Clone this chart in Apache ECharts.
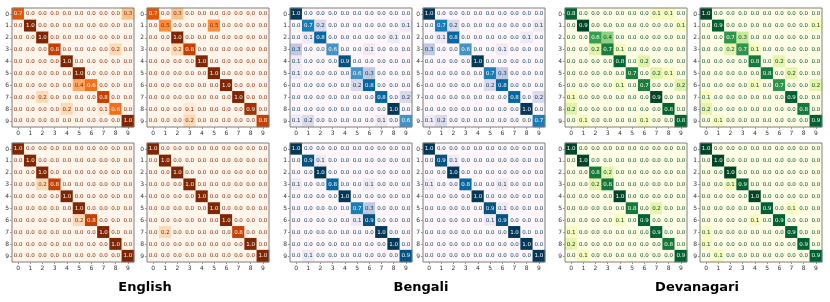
<!DOCTYPE html>
<html>
<head>
<meta charset="utf-8">
<script src="https://cdn.jsdelivr.net/npm/echarts@6/dist/echarts.min.js"></script>
<style>html,body{margin:0;padding:0;background:#fff}#c{width:830px;height:302px}</style>
</head>
<body>
<div id="c"></div>
<script>
const classLabels = ['0','1','2','3','4','5','6','7','8','9'];
const groupTitles = ['English','Bengali','Devanagari'];

const english1 = [
 [0.7,0,0,0,0,0,0,0,0,0.3],
 [0,1.0,0,0,0,0,0,0,0,0],
 [0,0,1.0,0,0,0,0,0,0,0],
 [0,0,0,0.8,0,0,0,0,0.2,0],
 [0,0,0,0,1.0,0,0,0,0,0],
 [0,0,0,0,0,1.0,0,0,0,0],
 [0,0,0,0,0,0.4,0.6,0,0,0],
 [0,0,0.2,0,0,0,0,0.8,0,0],
 [0,0,0,0,0.2,0,0,0.1,0.6,0],
 [0,0,0,0,0,0,0,0,0,1.0]];
const english2 = [
 [0.7,0,0.3,0,0,0,0,0,0,0],
 [0,0.5,0,0,0,0.5,0,0,0,0],
 [0,0,1.0,0,0,0,0,0,0,0],
 [0,0,0.2,0.8,0,0,0,0,0,0],
 [0,0,0,0,1.0,0,0,0,0,0],
 [0,0,0,0,0,1.0,0,0,0,0],
 [0,0,0,0,0,0,1.0,0,0,0],
 [0,0,0,0,0,0,0,1.0,0,0],
 [0,0,0,0.1,0,0,0,0,0.9,0],
 [0,0,0,0.2,0,0,0,0,0,0.8]];
const english3 = [
 [1.0,0,0,0,0,0,0,0,0,0],
 [0,1.0,0,0,0,0,0,0,0,0],
 [0,0,1.0,0,0,0,0,0,0,0],
 [0,0,0.2,0.8,0,0,0,0,0,0],
 [0,0,0,0,1.0,0,0,0,0,0],
 [0,0,0,0,0,1.0,0,0,0,0],
 [0,0,0,0,0,0.2,0.8,0,0,0],
 [0,0,0,0,0,0,0,1.0,0,0],
 [0,0,0,0,0,0,0,0,1.0,0],
 [0,0,0,0,0,0,0,0,0,1.0]];
const english4 = [
 [1.0,0,0,0,0,0,0,0,0,0],
 [0,1.0,0,0,0,0,0,0,0,0],
 [0,0,1.0,0,0,0,0,0,0,0],
 [0,0,0,1.0,0,0,0,0,0,0],
 [0,0,0,0,1.0,0,0,0,0,0],
 [0,0,0,0,0,1.0,0,0,0,0],
 [0,0,0,0,0,0,1.0,0,0,0],
 [0,0.2,0,0,0,0,0,0.8,0,0],
 [0,0,0,0,0,0,0,0,1.0,0],
 [0,0,0,0,0,0,0,0,0,1.0]];
const bengali1 = [
 [1.0,0,0,0,0,0,0,0,0,0],
 [0,0.7,0.2,0,0,0,0,0,0,0.1],
 [0,0.1,0.8,0,0,0,0,0,0.1,0],
 [0.3,0,0,0.6,0,0,0.1,0,0,0],
 [0.1,0,0,0,0.9,0,0,0,0,0],
 [0.1,0,0,0,0,0.6,0.3,0,0,0],
 [0,0,0,0,0,0.2,0.8,0,0,0],
 [0,0,0,0,0,0,0,0.8,0,0.2],
 [0,0,0,0,0,0,0,0,1.0,0],
 [0.1,0.2,0,0,0,0,0,0.1,0,0.6]];
const bengali2 = [
 [1.0,0,0,0,0,0,0,0,0,0],
 [0,0.7,0.2,0,0,0,0,0,0,0.1],
 [0,0.1,0.8,0,0,0,0,0,0.1,0],
 [0.3,0,0,0.6,0,0,0.1,0,0,0],
 [0,0,0,0,1.0,0,0,0,0,0],
 [0,0,0,0,0,0.7,0.3,0,0,0],
 [0,0,0,0,0,0.2,0.8,0,0,0],
 [0,0,0,0,0,0,0,0.8,0,0.2],
 [0,0,0,0,0,0,0,0,1.0,0],
 [0.1,0.2,0,0,0,0,0,0,0,0.7]];
const bengali3 = [
 [1.0,0,0,0,0,0,0,0,0,0],
 [0,0.9,0.1,0,0,0,0,0,0,0],
 [0,0,1.0,0,0,0,0,0,0,0],
 [0.1,0,0,0.8,0,0,0.1,0,0,0],
 [0,0,0,0,1.0,0,0,0,0,0],
 [0,0,0,0,0,0.7,0.3,0,0,0],
 [0,0,0,0,0,0.1,0.9,0,0,0],
 [0,0,0,0,0,0,0,1.0,0,0],
 [0,0,0,0,0,0,0,0,1.0,0],
 [0,0.1,0,0,0,0,0,0,0,0.9]];
const bengali4 = [
 [1.0,0,0,0,0,0,0,0,0,0],
 [0,0.9,0.1,0,0,0,0,0,0,0],
 [0,0,1.0,0,0,0,0,0,0,0],
 [0.1,0,0,0.8,0,0,0.1,0,0,0],
 [0,0,0,0,1.0,0,0,0,0,0],
 [0,0,0,0,0,0.9,0.1,0,0,0],
 [0,0,0,0,0,0.1,0.9,0,0,0],
 [0,0,0,0,0,0,0,1.0,0,0],
 [0,0,0,0,0,0,0,0,1.0,0],
 [0,0,0,0,0,0,0,0,0,1.0]];
const devanagari1 = [
 [0.8,0,0,0,0,0,0,0.1,0.1,0],
 [0,0.9,0,0,0,0,0,0,0,0.1],
 [0,0,0.6,0.4,0,0,0,0,0,0],
 [0,0,0.2,0.7,0.1,0,0,0,0,0],
 [0,0,0,0,0.8,0,0.2,0,0,0],
 [0,0,0,0,0,0.7,0,0.2,0.1,0],
 [0,0,0,0,0.1,0,0.7,0,0,0.2],
 [0.1,0,0,0,0,0,0,0.9,0,0],
 [0.2,0,0,0,0,0,0,0,0.8,0],
 [0,0.1,0,0,0,0,0.1,0,0,0.8]];
const devanagari2 = [
 [1.0,0,0,0,0,0,0,0,0,0],
 [0,0.9,0,0,0,0,0,0,0,0.1],
 [0,0,0.7,0.3,0,0,0,0,0,0],
 [0,0,0.2,0.7,0.1,0,0,0,0,0],
 [0,0,0,0,0.8,0,0.2,0,0,0],
 [0,0,0,0,0,0.8,0,0.2,0,0],
 [0,0,0,0,0.1,0,0.7,0,0,0.2],
 [0.1,0,0,0,0,0,0,0.9,0,0],
 [0.2,0,0,0,0,0,0,0,0.8,0],
 [0,0.1,0,0,0,0,0,0,0,0.9]];
const devanagari3 = [
 [1.0,0,0,0,0,0,0,0,0,0],
 [0,1.0,0,0,0,0,0,0,0,0],
 [0,0,0.8,0.2,0,0,0,0,0,0],
 [0,0,0.2,0.8,0,0,0,0,0,0],
 [0,0,0,0,1.0,0,0,0,0,0],
 [0,0,0,0,0,0.8,0,0.2,0,0],
 [0,0,0,0,0.1,0,0.9,0,0,0],
 [0.1,0,0,0,0,0,0,0.9,0,0],
 [0.2,0,0,0,0,0,0,0,0.8,0],
 [0,0.1,0,0,0,0,0,0,0,0.9]];
const devanagari4 = [
 [1.0,0,0,0,0,0,0,0,0,0],
 [0,1.0,0,0,0,0,0,0,0,0],
 [0,0,1.0,0,0,0,0,0,0,0],
 [0,0,0.1,0.9,0,0,0,0,0,0],
 [0,0,0,0,1.0,0,0,0,0,0],
 [0,0,0,0,0,0.9,0,0.1,0,0],
 [0,0,0,0,0.1,0,0.9,0,0,0],
 [0.1,0,0,0,0,0,0,0.9,0,0],
 [0.1,0,0,0,0,0,0,0,0.9,0],
 [0,0.1,0,0,0,0,0,0,0,0.9]];

const oranges = ['#fff5eb','#fee6ce','#fdd0a2','#fdae6b','#fd8d3c','#f16913','#d94801','#a63603','#7f2704'];
const pubu = ['#fff7fb','#ece7f2','#d0d1e6','#a6bddb','#74a9cf','#3690c0','#0570b0','#045a8d','#023858'];
const ylgn = ['#ffffe5','#f7fcb9','#d9f0a3','#addd8e','#78c679','#41ab5d','#238443','#006837','#004529'];

const matrices = [english1, english2, bengali1, bengali2, devanagari1, devanagari2,
                  english3, english4, bengali3, bengali4, devanagari3, devanagari4];
const colLefts = [12,147,290,423,565,700];
const rowTops = [8,143];
const cmaps = [oranges, oranges, pubu, pubu, ylgn, ylgn];
const W = 122, H = 119;
const FONT = 'DejaVu Sans';

const grids = [], xAxes = [], yAxes = [], series = [], visualMaps = [];
matrices.forEach((m, i) => {
  const col = i % 6, row = Math.floor(i / 6);
  const cmap = cmaps[col];
  let mx = 0;
  m.forEach(r => r.forEach(v => { if (v > mx) mx = v; }));
  grids.push({left: colLefts[col], top: rowTops[row], width: W, height: H,
    show: true, borderColor: '#7f7f7f', borderWidth: 1, backgroundColor: 'transparent', z: 5});
  const axisCommon = {
    type: 'category', data: classLabels, gridIndex: i,
    axisLine: {show: false},
    axisTick: {show: true, alignWithLabel: true, length: 2, lineStyle: {color: '#555', width: 0.6}},
    axisLabel: {fontSize: 6, color: '#333', margin: 3, fontFamily: FONT},
    splitLine: {show: false}, splitArea: {show: false}
  };
  xAxes.push(Object.assign({}, axisCommon, {position: 'bottom'}));
  yAxes.push(Object.assign({}, axisCommon, {position: 'left', inverse: true}));
  const data = [];
  m.forEach((r, y) => r.forEach((v, x) => {
    data.push({value: [x, y, v], label: {color: (v / mx) > 0.5 ? cmap[0] : cmap[8]}});
  }));
  series.push({
    type: 'heatmap', xAxisIndex: i, yAxisIndex: i, data: data,
    label: {show: true, fontSize: 5.5, fontFamily: FONT,
      formatter: p => p.value[2].toFixed(1)},
    emphasis: {disabled: true}, itemStyle: {borderWidth: 0}
  });
  visualMaps.push({type: 'continuous', show: false, seriesIndex: i, dimension: 2,
    min: 0, max: mx, inRange: {color: cmap}});
});

const titleCenters = [140, 416, 692];
const titles = groupTitles.map((t, k) => ({
  text: t, left: titleCenters[k], top: 276, textAlign: 'center',
  textStyle: {fontSize: 13, fontWeight: 'bold', color: '#000', fontFamily: FONT}
}));

const chart = echarts.init(document.getElementById('c'), null, {renderer: 'canvas'});
chart.setOption({
  backgroundColor: '#fff',
  animation: false,
  title: titles,
  grid: grids, xAxis: xAxes, yAxis: yAxes,
  visualMap: visualMaps,
  series: series
});
</script>
</body>
</html>
